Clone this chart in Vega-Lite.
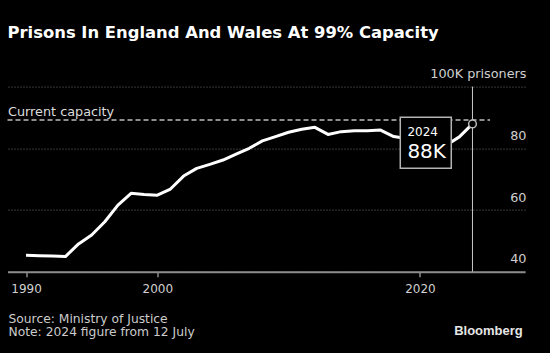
{
  "$schema": "https://vega.github.io/schema/vega-lite/v6.json",
  "width": 517.5,
  "height": 185.1,
  "autosize": {"type": "none"},
  "padding": {"left": 7.5, "top": 86.6, "right": 25, "bottom": 81.3},
  "background": "#000000",
  "config": {"view": {"stroke": null}, "font": "DejaVu Sans"},
  "title": {
    "text": "Prisons In England And Wales At 99% Capacity",
    "anchor": "start",
    "frame": "group",
    "font": "DejaVu Sans",
    "fontWeight": "bold",
    "fontSize": 16.4,
    "color": "#ffffff",
    "baseline": "alphabetic",
    "offset": 13
  },
  "datasets": {
    "prisoners": [
      {"year": 1990, "value": 45.3},
      {"year": 1991, "value": 45.2},
      {"year": 1992, "value": 45.1},
      {"year": 1993, "value": 44.9},
      {"year": 1994, "value": 49.0},
      {"year": 1995, "value": 51.9},
      {"year": 1996, "value": 56.2},
      {"year": 1997, "value": 61.6},
      {"year": 1998, "value": 65.4},
      {"year": 1999, "value": 65.0},
      {"year": 2000, "value": 64.8},
      {"year": 2001, "value": 66.8},
      {"year": 2002, "value": 71.0},
      {"year": 2003, "value": 73.5},
      {"year": 2004, "value": 74.8},
      {"year": 2005, "value": 76.2},
      {"year": 2006, "value": 78.1},
      {"year": 2007, "value": 80.0},
      {"year": 2008, "value": 82.4},
      {"year": 2009, "value": 83.8},
      {"year": 2010, "value": 85.2},
      {"year": 2011, "value": 86.2},
      {"year": 2012, "value": 86.8},
      {"year": 2013, "value": 84.5},
      {"year": 2014, "value": 85.4},
      {"year": 2015, "value": 85.7},
      {"year": 2016, "value": 85.7},
      {"year": 2017, "value": 85.9},
      {"year": 2018, "value": 83.8},
      {"year": 2019, "value": 83.2},
      {"year": 2020, "value": 79.5},
      {"year": 2021, "value": 78.2},
      {"year": 2022, "value": 81.0},
      {"year": 2023, "value": 83.7},
      {"year": 2024, "value": 87.9}
    ],
    "capacity": [
      {"start": 1988.59, "end": 2025.34, "capacity": 89.2, "label": "Current capacity"}
    ],
    "latest": [
      {"year": 2024, "value": 87.9, "yearLabel": "2024", "valueLabel": "88K", "top": 100, "bottom": 40}
    ]
  },
  "layer": [
    {
      "data": {"name": "prisoners"},
      "mark": {"type": "line", "color": "#ffffff", "strokeWidth": 3, "strokeJoin": "round"},
      "encoding": {
        "x": {
          "field": "year",
          "type": "quantitative",
          "scale": {"domain": [1988.59, 2028.0], "nice": false, "zero": false},
          "axis": {
            "values": [1990, 2000, 2020],
            "format": "d",
            "grid": false,
            "domainColor": "#8c8c8c",
            "domainWidth": 2,
            "tickColor": "#8c8c8c",
            "tickSize": 5,
            "tickWidth": 1.5,
            "labelColor": "#d0d0d0",
            "labelFont": "DejaVu Sans",
            "labelFontSize": 12,
            "labelPadding": 7,
            "labelFlush": false,
            "labelOverlap": false,
            "title": ["Source: Ministry of Justice", "Note: 2024 figure from 12 July"],
            "titleAnchor": "start",
            "titleAlign": "left",
            "titleBaseline": "alphabetic",
            "titleX": 0.5,
            "titleY": 50.6,
            "titleFont": "DejaVu Sans",
            "titleFontSize": 12.3,
            "titleFontWeight": "normal",
            "titleColor": "#cccccc",
            "titleLineHeight": 13.7
          }
        },
        "y": {
          "field": "value",
          "type": "quantitative",
          "scale": {"domain": [40, 100], "nice": false, "zero": false},
          "axis": {
            "orient": "right",
            "values": [40, 60, 80, 100],
            "grid": true,
            "gridColor": "#707070",
            "gridDash": [1, 2],
            "gridWidth": 1,
            "domain": false,
            "ticks": false,
            "tickSize": 0,
            "labelAlign": "right",
            "labelBaseline": "alphabetic",
            "labelOffset": -9,
            "labelPadding": 1,
            "labelColor": "#d0d0d0",
            "labelFont": "DejaVu Sans",
            "labelFontSize": 12.8,
            "labelFlush": false,
            "labelOverlap": false,
            "labelBound": false,
            "labelExpr": "datum.value == 100 ? '100K prisoners' : datum.label",
            "title": "Bloomberg",
            "titleAngle": 0,
            "titleAlign": "right",
            "titleBaseline": "alphabetic",
            "titleX": -2.7,
            "titleY": 247.4,
            "titleFont": "Liberation Sans",
            "titleFontWeight": "bold",
            "titleFontSize": 13,
            "titleColor": "#e6e6e6"
          }
        }
      }
    },
    {
      "data": {"name": "capacity"},
      "mark": {"type": "rule", "color": "#bdbdbd", "strokeDash": [5, 3], "strokeWidth": 1.5},
      "encoding": {
        "x": {"field": "start", "type": "quantitative"},
        "x2": {"field": "end"},
        "y": {"field": "capacity", "type": "quantitative"}
      }
    },
    {
      "data": {"name": "capacity"},
      "mark": {"type": "text", "align": "left", "baseline": "alphabetic", "dx": 0.5, "dy": -4.3, "fontSize": 12.8, "font": "DejaVu Sans", "color": "#dddddd"},
      "encoding": {
        "x": {"field": "start", "type": "quantitative"},
        "y": {"field": "capacity", "type": "quantitative"},
        "text": {"field": "label"}
      }
    },
    {
      "data": {"name": "latest"},
      "mark": {"type": "rule", "color": "#c8c8c8", "strokeWidth": 1},
      "encoding": {
        "x": {"field": "year", "type": "quantitative"},
        "y": {"field": "top", "type": "quantitative"},
        "y2": {"field": "bottom"}
      }
    },
    {
      "data": {"name": "latest"},
      "mark": {"type": "point", "shape": "square", "size": 2601, "filled": true, "fill": "#000000", "stroke": "#b4b4b4", "strokeWidth": 1.5, "opacity": 1, "xOffset": -46.7, "yOffset": 18.75},
      "encoding": {
        "x": {"field": "year", "type": "quantitative"},
        "y": {"field": "value", "type": "quantitative"}
      }
    },
    {
      "data": {"name": "latest"},
      "mark": {"type": "text", "align": "left", "baseline": "alphabetic", "dx": -65.1, "dy": 11.6, "fontSize": 12, "font": "DejaVu Sans", "color": "#ffffff"},
      "encoding": {
        "x": {"field": "year", "type": "quantitative"},
        "y": {"field": "value", "type": "quantitative"},
        "text": {"field": "yearLabel"}
      }
    },
    {
      "data": {"name": "latest"},
      "mark": {"type": "text", "align": "left", "baseline": "alphabetic", "dx": -65.1, "dy": 34.2, "fontSize": 20, "font": "DejaVu Sans", "color": "#ffffff"},
      "encoding": {
        "x": {"field": "year", "type": "quantitative"},
        "y": {"field": "value", "type": "quantitative"},
        "text": {"field": "valueLabel"}
      }
    },
    {
      "data": {"name": "latest"},
      "mark": {"type": "point", "shape": "circle", "size": 60, "filled": true, "fill": "#000000", "stroke": "#bbbbbb", "strokeWidth": 1.5, "opacity": 1},
      "encoding": {
        "x": {"field": "year", "type": "quantitative"},
        "y": {"field": "value", "type": "quantitative"}
      }
    }
  ]
}
